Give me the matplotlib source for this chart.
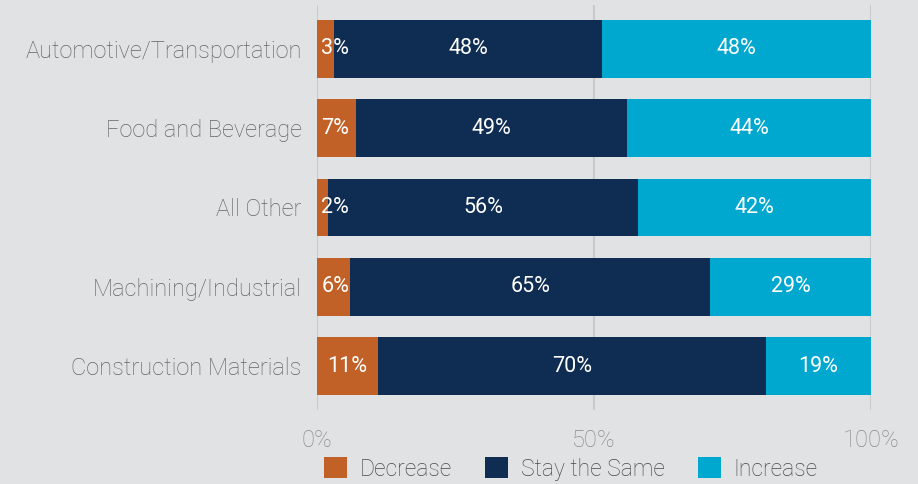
import matplotlib
matplotlib.use("Agg")
import matplotlib.pyplot as plt
import numpy as np
from matplotlib.patches import Patch

categories = ["Automotive/Transportation", "Food and Beverage", "All Other",
              "Machining/Industrial", "Construction Materials"]
decrease = [3, 7, 2, 6, 11]
same = [48, 49, 56, 65, 70]
increase = [48, 44, 42, 29, 19]
series_names = ["Decrease", "Stay the Same", "Increase"]
tick_vals = [0, 50, 100]
tick_labels = ["0%", "50%", "100%"]

colors = ["#c26127", "#0f2d52", "#00a8d0"]
bg = "#e1e2e4"
FONT = "Roboto"

fig = plt.figure(figsize=(9.18, 4.84), dpi=100, facecolor=bg)
ax = fig.add_axes([317/918, 1-410/484, (871-317)/918, (410-5)/484])
ax.set_facecolor(bg)

data = np.array([decrease, same, increase], dtype=float)
totals = data.sum(axis=0)
norm = data / totals * 100
y = np.arange(len(categories))
left = np.zeros(len(categories))
vfs = 15.5
for i in range(3):
    ax.barh(y, norm[i], left=left, height=0.73, color=colors[i], zorder=3)
    for j in range(len(categories)):
        val = data[i][j]
        txt = f"{int(val)}%"
        if i == 0:
            if norm[i][j] < 8.5:
                ax.annotate(txt, (0, y[j]), xytext=(3, 0), textcoords="offset points",
                            ha="left", va="center", color="white", fontsize=vfs,
                            family=FONT, fontweight="normal", zorder=4)
            else:
                ax.text(norm[i][j]/2, y[j], txt, ha="center", va="center",
                        color="white", fontsize=vfs, family=FONT, fontweight="normal", zorder=4)
        else:
            ax.text(left[j] + norm[i][j]/2, y[j], txt, ha="center", va="center",
                    color="white", fontsize=vfs, family=FONT, fontweight="normal", zorder=4)
    left += norm[i]

ax.set_xlim(0, 100)
ax.set_ylim(len(categories) - 1 + 0.555, -0.555)
ax.set_yticks(y)
ax.set_yticklabels(categories, family=FONT, fontweight="light", fontsize=17, color="#646567")
ax.set_xticks(tick_vals)
ax.set_xticklabels(tick_labels, family=FONT, fontweight="light", fontsize=17, color="#8a8b8d")
ax.tick_params(axis="y", length=0, pad=11)
ax.tick_params(axis="x", length=0, pad=14)
for s in ax.spines.values():
    s.set_visible(False)
for v in tick_vals:
    ax.axvline(v, color="#c9cacc", lw=1.5, zorder=1)

handles = [Patch(facecolor=c, edgecolor="none") for c in colors]
leg = fig.legend(handles, series_names, loc="center left", bbox_to_anchor=(315/918, 1-469/484),
                 ncol=3, frameon=False, prop={"family": FONT, "size": 16.5, "weight": "light"},
                 handlelength=1.0, handleheight=1.0, handletextpad=0.55, columnspacing=1.45,
                 borderaxespad=0)
for t in leg.get_texts():
    t.set_color("#48494b")

fig.savefig("out.png", dpi=100, facecolor=bg)
